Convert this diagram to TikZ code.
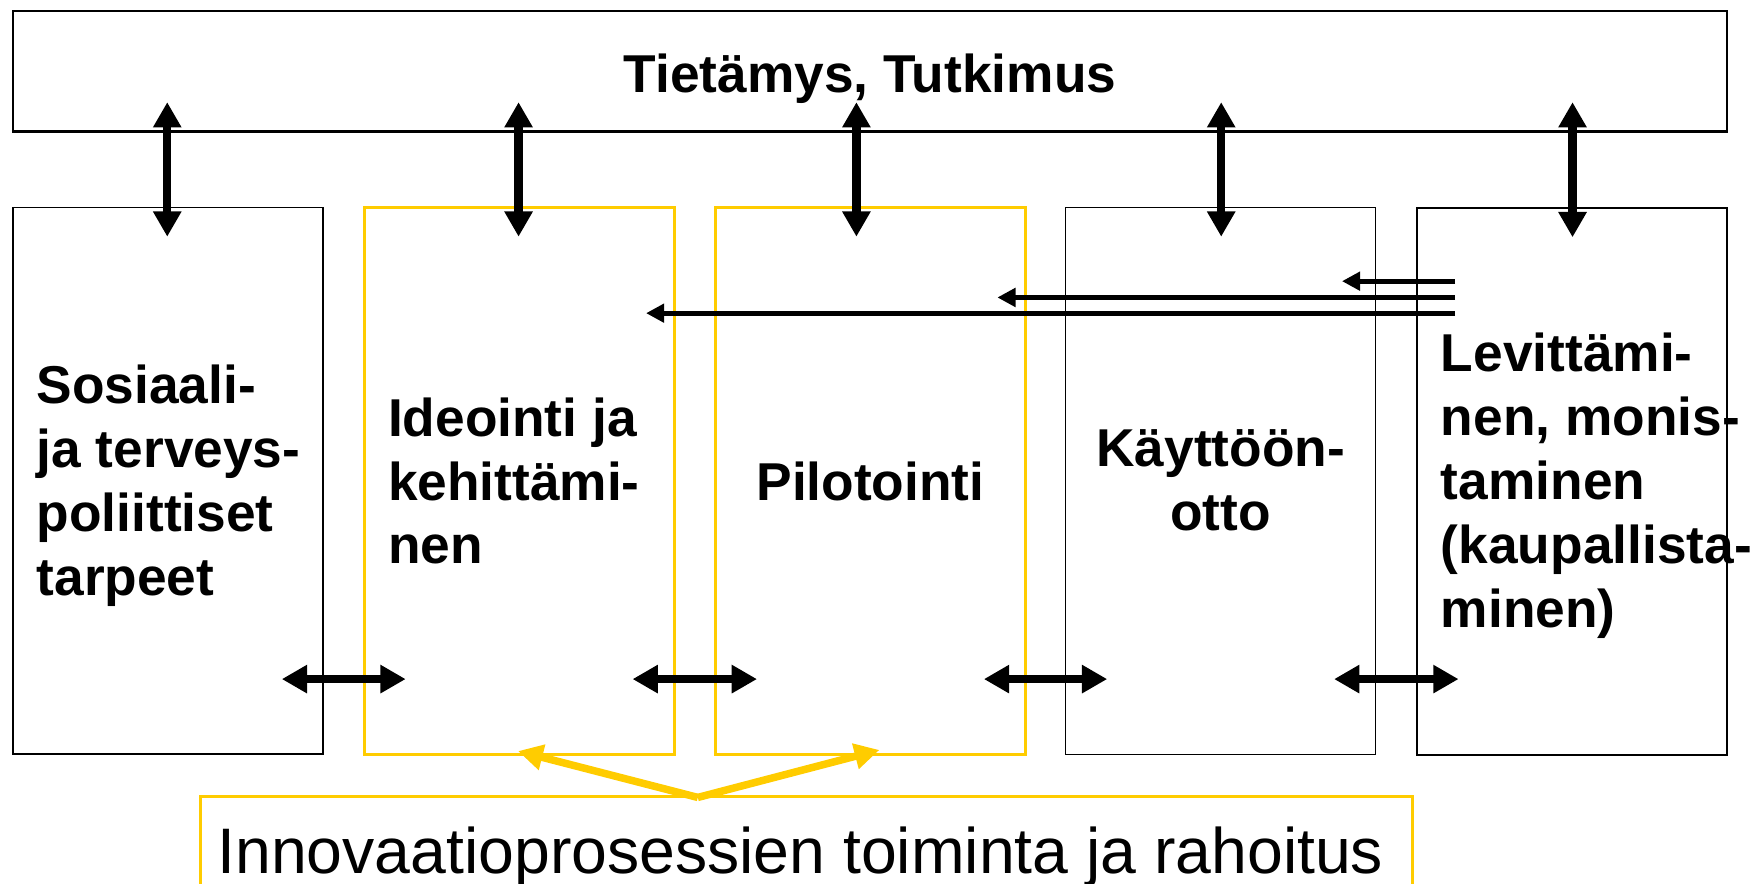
\documentclass[tikz,border=0pt]{standalone}
\usepackage{fontspec}
\setmainfont{Liberation Sans}
\usetikzlibrary{arrows.meta,calc}
\definecolor{gold}{HTML}{FFCC00}
\begin{document}
\begin{tikzpicture}[x=0.01cm,y=-0.01cm,
  box/.style={draw=black,line width=0.5pt,inner sep=0pt,outer sep=0pt,minimum width=2.76cm,minimum height=4.87cm},
  ybox/.style={box,draw=gold,line width=0.8pt},
  lbl/.style={font=\fontsize{13.5pt}{16.2pt}\selectfont\bfseries,inner sep=0pt,align=left},
  dblarrow/.style={line width=2.1pt,{Triangle[width=6.8pt,length=6.4pt]}-{Triangle[width=6.8pt,length=6.4pt]}},
  backarrow/.style={line width=1.2pt,-{Triangle[width=4.6pt,length=4.6pt]}},
  goldarrow/.style={draw=gold,line width=1.9pt,-{Triangle[width=6.3pt,length=6.3pt]}}
]
\useasboundingbox (0,0) rectangle (1560,787);
\clip (0,0) rectangle (1560,787);

% top box
\node[box,minimum width=15.26cm,minimum height=1.07cm,line width=0.6pt] (top) at (775,63.5) {};
\node[lbl,anchor=base] (title) at (775,82) {Tietämys, Tutkimus};

% process boxes
\node[box] (b1) at (150,428.5) {};
\node[ybox] (b2) at (462.5,428.5) {};
\node[ybox] (b3) at (775.5,428.5) {};
\node[box,line width=0.4pt] (b4) at (1087.5,428.5) {};
\node[box,line width=0.6pt] (b5) at (1400.5,429) {};

\node[lbl,anchor=west] (t1) at (32,433) {Sosiaali-\\ja terveys-\\poliittiset\\tarpeet};
\node[lbl,anchor=west] (t2) at (345,428.5) {Ideointi ja\\kehittämi-\\nen};
\node[lbl,anchor=base] (t3) at (775.5,446) {Pilotointi};
\node[lbl,align=center] (t4) at (1087.5,428) {Käyttöön-\\otto};
\node[lbl,anchor=west] (t5) at (1283,433) {Levittämi-\\nen, monis-\\taminen\\(kaupallista-\\minen)};

% bottom box
\node[ybox,minimum width=10.79cm,minimum height=2cm,line width=0.7pt] (inno) at (718.5,809.5) {};
\node[anchor=base west,inner sep=0pt,font=\fontsize{16.3pt}{19pt}\selectfont] (innotext) at (193,778) {Innovaatioprosessien toiminta ja rahoitus};

% vertical double arrows
\foreach \b/\dx in {b1/-1,b2/-0.5,b3/-12.5,b4/0.5,b5/0.5}
  \draw[dblarrow] ($(\b.north |- top.south)+(\dx,-26)$) -- ($(\b.north)+(\dx,26)$);

% horizontal double arrows
\foreach \l/\r in {b1/b2,b2/b3,b3/b4,b4/b5}
  \draw[dblarrow] ($(\l.east)+(-37,176.5)$) -- ($(\r.west |- \l.east)+(37,176.5)$);

% feedback arrows from b5
\draw[backarrow] ($(b5.west)+(34,-178.5)$) -- ($(b4.east)+(-30,-178)$);
\draw[backarrow] ($(b5.west)+(34,-164)$) -- ($(b3.east)+(-25,-163.5)$);
\draw[backarrow] ($(b5.west)+(34,-150)$) -- ($(b2.east)+(-25,-149.5)$);

% gold arrows
\coordinate (fork) at ($(inno.north west)+(443,1)$);
\draw[goldarrow] (fork) -- ($(b2.south)+(-1,-3)$);
\draw[goldarrow] (fork) -- ($(b3.south)+(8,-4)$);
\end{tikzpicture}
\end{document}
